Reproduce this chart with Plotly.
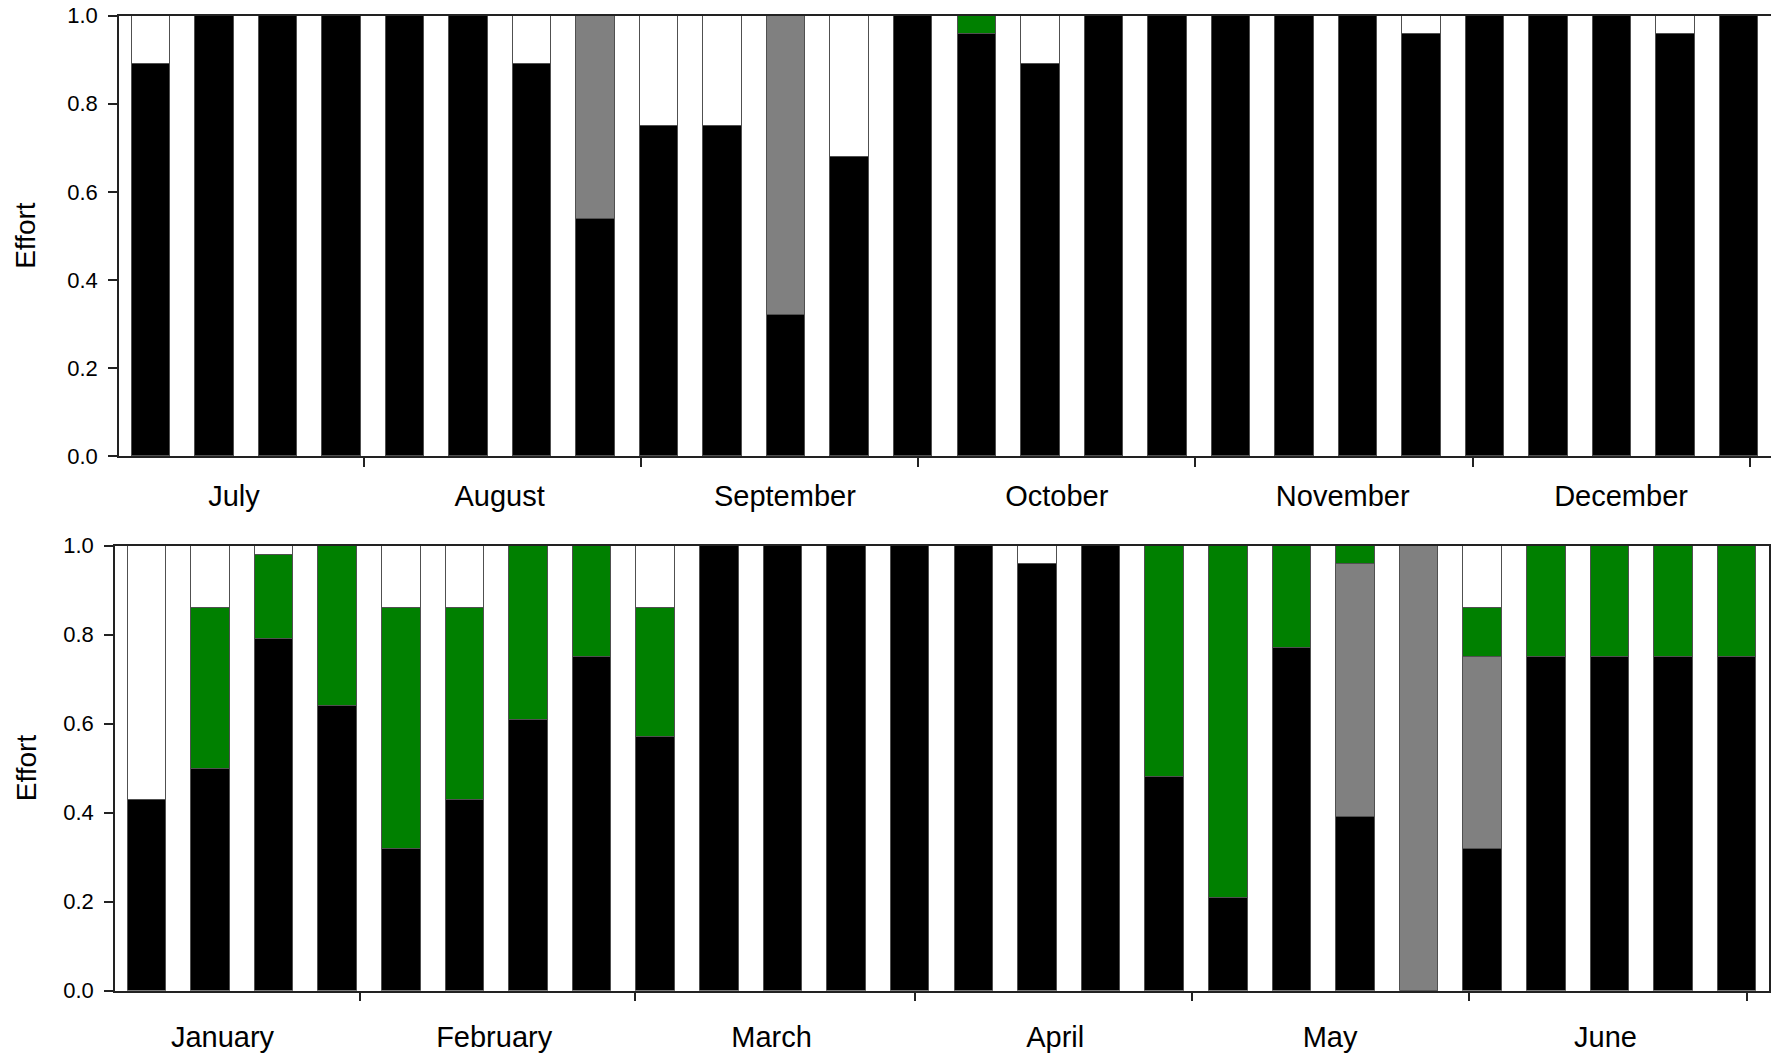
import plotly.graph_objects as go

# ---------------- data ----------------
weeks = list(range(26))

# Top panel: July - December
top_black = [0.89, 1.00, 1.00, 1.00, 1.00, 1.00, 0.89, 0.54, 0.75, 0.75, 0.32, 0.68, 1.00,
             0.96, 0.89, 1.00, 1.00, 1.00, 1.00, 1.00, 0.96, 1.00, 1.00, 1.00, 0.96, 1.00]
top_gray = [0, 0, 0, 0, 0, 0, 0, 0.46, 0, 0, 0.68, 0, 0,
            0, 0, 0, 0, 0, 0, 0, 0, 0, 0, 0, 0, 0]
top_green = [0, 0, 0, 0, 0, 0, 0, 0, 0, 0, 0, 0, 0,
             0.04, 0, 0, 0, 0, 0, 0, 0, 0, 0, 0, 0, 0]
top_white = [0.11, 0, 0, 0, 0, 0, 0.11, 0, 0.25, 0.25, 0, 0.32, 0,
             0, 0.11, 0, 0, 0, 0, 0, 0.04, 0, 0, 0, 0.04, 0]

# Bottom panel: January - June
bot_black = [0.43, 0.50, 0.79, 0.64, 0.32, 0.43, 0.61, 0.75, 0.57, 1.00, 1.00, 1.00, 1.00,
             1.00, 0.96, 1.00, 0.48, 0.21, 0.77, 0.39, 0.00, 0.32, 0.75, 0.75, 0.75, 0.75]
bot_gray = [0, 0, 0, 0, 0, 0, 0, 0, 0, 0, 0, 0, 0,
            0, 0, 0, 0, 0, 0, 0.57, 1.00, 0.43, 0, 0, 0, 0]
bot_green = [0, 0.36, 0.19, 0.36, 0.54, 0.43, 0.39, 0.25, 0.29, 0, 0, 0, 0,
             0, 0, 0, 0.52, 0.79, 0.23, 0.04, 0, 0.11, 0.25, 0.25, 0.25, 0.25]
bot_white = [0.57, 0.14, 0.02, 0, 0.14, 0.14, 0, 0, 0.14, 0, 0, 0, 0,
             0, 0.04, 0, 0, 0, 0, 0, 0, 0.14, 0, 0, 0, 0]

top_months = ["July", "August", "September", "October", "November", "December"]
top_month_pos = [1.31, 5.49, 9.98, 14.26, 18.76, 23.14]
top_month_bounds = [3.35, 7.72, 12.08, 16.44, 20.81, 25.17]

bot_months = ["January", "February", "March", "April", "May", "June"]
bot_month_pos = [1.19, 5.46, 9.82, 14.28, 18.60, 22.93]
bot_month_bounds = [3.35, 7.68, 12.07, 16.43, 20.79, 25.16]

y_ticks = [0.0, 0.2, 0.4, 0.6, 0.8, 1.0]

# ---------------- styling ----------------
FONT = "Arial, Liberation Sans, sans-serif"
colors = {"black": "#000000", "gray": "#808080", "green": "#008000", "white": "#ffffff"}
OUTLINE = "#505050"
AXC = "#222222"
BAR_W = 0.605

fig = go.Figure()


def add_stack(series, xa, ya):
    for name, vals in series:
        fig.add_trace(go.Bar(
            x=weeks, y=vals, xaxis=xa, yaxis=ya, width=BAR_W,
            marker=dict(color=colors[name], line=dict(color=OUTLINE, width=1)),
            showlegend=False, name=name))


add_stack([("black", top_black), ("gray", top_gray), ("green", top_green), ("white", top_white)], "x", "y")
add_stack([("black", bot_black), ("gray", bot_gray), ("green", bot_green), ("white", bot_white)], "x2", "y2")

W, H = 1771, 1053


def xaxis(domain, pos, labels, bounds, standoff):
    return dict(
        domain=domain, range=[-0.5, 25.5],
        tickmode="array", tickvals=pos, ticktext=labels, ticks="",
        tickfont=dict(family=FONT, size=29, color="#000"),
        ticklabelstandoff=standoff,
        showline=True, linecolor=AXC, linewidth=1.5, mirror=True,
        showgrid=False, zeroline=False, fixedrange=True,
        minor=dict(tickmode="array", tickvals=bounds, ticks="outside",
                   ticklen=9, tickwidth=1.5, tickcolor=AXC, showgrid=False),
    )


def yaxis(domain, mirror):
    return dict(
        domain=domain, range=[0, 1.0],
        tickmode="array", tickvals=y_ticks, ticktext=[f"{v:.1f}" for v in y_ticks],
        ticks="outside", ticklen=9, tickwidth=1.5, tickcolor=AXC,
        tickfont=dict(family=FONT, size=22, color="#000"),
        ticklabelstandoff=6,
        showline=True, linecolor=AXC, linewidth=1.5, mirror=mirror,
        showgrid=False, zeroline=False, fixedrange=True,
    )


top_xd = [119 / W, 1.0]
bot_xd = [115 / W, 1769 / W]
top_yd = [1 - 456 / H, 1 - 15.7 / H]
bot_yd = [1 - 990.7 / H, 1 - 545.7 / H]

xa1 = xaxis(top_xd, top_month_pos, top_months, top_month_bounds, 13)
xa1["anchor"] = "y"
xa2 = xaxis(bot_xd, bot_month_pos, bot_months, bot_month_bounds, 20)
xa2["anchor"] = "y2"
ya1 = yaxis(top_yd, False)
ya1["anchor"] = "x"
ya2 = yaxis(bot_yd, True)
ya2["anchor"] = "x2"

fig.update_layout(
    width=W, height=H, barmode="stack", bargap=0,
    paper_bgcolor="white", plot_bgcolor="white",
    margin=dict(l=0, r=0, t=0, b=0, autoexpand=False),
    xaxis=xa1, yaxis=ya1, xaxis2=xa2, yaxis2=ya2,
    font=dict(family=FONT, color="#000"),
)

for yc in [(top_yd[0] + top_yd[1]) / 2, (bot_yd[0] + bot_yd[1]) / 2]:
    fig.add_annotation(text="Effort", x=26 / W, y=yc, xref="paper", yref="paper",
                       textangle=-90, showarrow=False,
                       font=dict(family=FONT, size=28, color="#000"),
                       xanchor="center", yanchor="middle")

fig.write_html(
    "out.html",
    config={"displayModeBar": False},
    post_script="document.body.style.margin='0';document.body.style.padding='0';"
                "document.body.style.overflow='hidden';",
)
